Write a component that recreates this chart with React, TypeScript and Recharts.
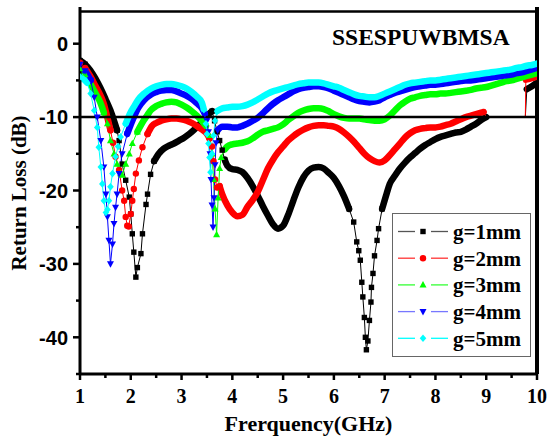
import React from "react";
import { LineChart, Line, XAxis, YAxis, ReferenceLine, Legend } from "recharts";

// [frequency GHz, return loss dB]
const g1Points: [number, number][] = [
  [1.0, -2.3], [1.1, -2.8], [1.2, -3.6], [1.3, -4.7], [1.4, -6.0], [1.5, -7.5], [1.6, -9.1], [1.67, -10.5],
  [1.73, -11.8], [1.77, -13.2], [1.83, -16.4], [1.9, -18.6], [1.97, -20.9], [2.0, -23.2], [2.03, -25.9],
  [2.06, -28.4], [2.1, -31.8], [2.13, -30.5], [2.2, -28.6], [2.23, -25.9], [2.3, -21.9], [2.33, -20.5],
  [2.39, -17.8], [2.46, -16.0], [2.55, -15.0], [2.65, -14.3], [2.75, -13.9], [2.85, -13.6], [2.95, -13.2],
  [3.05, -12.8], [3.15, -12.3], [3.25, -11.7], [3.35, -11.0], [3.45, -10.3], [3.55, -9.5], [3.6, -9.2],
  [3.65, -10.5], [3.7, -12.0], [3.75, -13.2], [3.8, -14.5], [3.85, -15.8], [3.9, -16.6], [4.0, -17.1],
  [4.1, -17.2], [4.2, -17.5], [4.3, -18.3], [4.4, -19.4], [4.5, -20.7], [4.6, -22.1], [4.7, -23.4],
  [4.8, -24.6], [4.9, -25.2], [5.0, -24.8], [5.1, -23.3], [5.2, -21.4], [5.3, -19.6], [5.4, -18.2],
  [5.5, -17.3], [5.6, -16.9], [5.7, -16.8], [5.8, -17.0], [5.9, -17.6], [6.0, -18.3], [6.1, -19.4],
  [6.2, -20.8], [6.3, -22.5], [6.39, -24.3], [6.45, -27.0], [6.49, -28.2], [6.52, -29.5], [6.55, -32.5],
  [6.57, -34.5], [6.6, -37.3], [6.62, -40.0], [6.64, -41.7], [6.67, -40.5], [6.7, -37.7], [6.73, -35.2],
  [6.74, -33.2], [6.77, -31.3], [6.8, -28.9], [6.85, -26.8], [6.88, -25.2], [6.95, -22.5], [7.04, -20.4],
  [7.1, -19.1], [7.2, -18.0], [7.3, -17.0], [7.4, -16.2], [7.5, -15.5], [7.6, -14.9], [7.7, -14.3],
  [7.8, -13.8], [7.9, -13.4], [8.0, -13.0], [8.1, -12.7], [8.2, -12.5], [8.3, -12.3], [8.4, -12.1],
  [8.5, -12.0], [8.6, -11.7], [8.7, -11.3], [8.8, -10.9], [8.9, -10.4], [9.0, -10.0], [9.77, -10.0],
  [9.8, -6.2], [9.9, -5.8], [10.0, -5.3],
];

const g2Points: [number, number][] = [
  [1.0, -2.6], [1.1, -3.3], [1.2, -4.4], [1.3, -5.7], [1.4, -7.0], [1.47, -8.2], [1.53, -9.8], [1.6, -11.8],
  [1.65, -13.5], [1.7, -15.4], [1.77, -17.2], [1.83, -20.0], [1.87, -21.4], [1.9, -23.6], [1.93, -24.8],
  [1.96, -24.9], [2.0, -23.2], [2.03, -21.4], [2.06, -19.8], [2.1, -17.7], [2.16, -15.9], [2.23, -14.1],
  [2.33, -12.3], [2.42, -11.2], [2.5, -10.8], [2.6, -10.5], [2.7, -10.3], [2.8, -10.2], [2.9, -10.2],
  [3.0, -10.3], [3.1, -10.5], [3.2, -10.8], [3.3, -11.2], [3.4, -11.7], [3.5, -12.3], [3.55, -12.9],
  [3.6, -14.0], [3.63, -16.0], [3.66, -18.5], [3.7, -19.6], [3.75, -19.4], [3.8, -20.5], [3.9, -22.0],
  [4.0, -23.0], [4.1, -23.5], [4.2, -23.3], [4.3, -22.2], [4.4, -21.3], [4.5, -20.2], [4.6, -18.6],
  [4.7, -17.0], [4.8, -15.8], [4.9, -14.8], [5.0, -14.0], [5.1, -13.2], [5.2, -12.6], [5.3, -12.1],
  [5.4, -11.7], [5.5, -11.4], [5.6, -11.2], [5.7, -11.1], [5.8, -11.1], [5.9, -11.2], [6.0, -11.3],
  [6.1, -11.6], [6.2, -12.1], [6.3, -12.7], [6.4, -13.4], [6.5, -14.2], [6.6, -15.0], [6.7, -15.6],
  [6.8, -16.0], [6.9, -16.2], [7.0, -15.9], [7.1, -15.2], [7.2, -14.4], [7.3, -13.6], [7.4, -12.8],
  [7.5, -12.2], [7.6, -11.8], [7.7, -11.6], [7.8, -11.5], [7.9, -11.4], [8.0, -11.4], [8.1, -11.3],
  [8.2, -11.1], [8.3, -10.9], [8.4, -10.6], [8.5, -10.3], [8.6, -10.0], [8.7, -9.8], [8.8, -9.6],
  [8.9, -9.4], [8.95, -9.3], [9.0, -10.0], [9.77, -10.0], [9.78, -4.9], [9.9, -4.7], [10.0, -4.5],
];

const g3Points: [number, number][] = [
  [1.0, -3.4], [1.1, -4.2], [1.2, -5.4], [1.3, -6.7], [1.4, -8.0], [1.47, -9.4], [1.54, -10.9], [1.6, -13.2],
  [1.67, -15.0], [1.73, -16.4], [1.8, -17.7], [1.83, -17.9], [1.9, -16.4], [1.97, -15.0], [2.03, -13.6],
  [2.13, -12.0], [2.2, -11.1], [2.26, -10.4], [2.33, -9.7], [2.39, -9.1], [2.5, -8.5], [2.6, -8.2],
  [2.7, -8.0], [2.8, -7.9], [2.9, -8.0], [3.0, -8.3], [3.1, -8.7], [3.2, -9.2], [3.3, -9.8], [3.4, -10.5],
  [3.48, -11.2], [3.55, -12.5], [3.6, -15.0], [3.63, -18.5], [3.66, -22.5], [3.69, -26.0], [3.72, -21.0],
  [3.75, -17.0], [3.78, -15.5], [3.85, -14.4], [3.9, -14.0], [4.0, -13.7], [4.1, -13.6], [4.2, -13.5],
  [4.3, -13.3], [4.4, -12.9], [4.5, -12.4], [4.6, -12.0], [4.7, -11.8], [4.8, -11.6], [4.9, -11.4],
  [5.0, -11.0], [5.1, -10.4], [5.2, -9.9], [5.3, -9.4], [5.4, -9.1], [5.5, -8.9], [5.6, -8.8], [5.7, -8.8],
  [5.8, -8.9], [5.9, -9.2], [6.0, -9.6], [6.1, -9.9], [6.2, -10.1], [6.3, -10.2], [6.4, -10.2],
  [6.5, -10.2], [6.6, -10.3], [6.7, -10.4], [6.8, -10.5], [6.9, -10.5], [7.0, -10.3], [7.1, -9.8],
  [7.2, -9.1], [7.3, -8.4], [7.4, -7.9], [7.5, -7.5], [7.6, -7.3], [7.7, -7.1], [7.8, -7.0], [7.9, -6.9],
  [8.0, -6.9], [8.1, -6.8], [8.2, -6.8], [8.3, -6.7], [8.4, -6.6], [8.5, -6.5], [8.6, -6.4], [8.7, -6.3],
  [8.8, -6.1], [8.9, -6.0], [9.0, -5.9], [9.1, -5.7], [9.2, -5.5], [9.3, -5.3], [9.4, -5.1], [9.5, -5.0],
  [9.6, -4.8], [9.7, -4.6], [9.8, -4.4], [9.9, -4.2], [10.0, -4.0],
];

const g4Points: [number, number][] = [
  [1.0, -2.8], [1.1, -3.7], [1.21, -5.0], [1.28, -7.3], [1.34, -10.0], [1.41, -13.2], [1.47, -16.8],
  [1.51, -20.5], [1.54, -23.6], [1.57, -26.8], [1.6, -30.0], [1.64, -27.3], [1.67, -24.5], [1.7, -22.3],
  [1.73, -20.5], [1.77, -17.7], [1.83, -15.0], [1.93, -12.3], [2.0, -11.0], [2.06, -10.0], [2.15, -8.7],
  [2.26, -7.7], [2.4, -6.9], [2.5, -6.6], [2.6, -6.4], [2.7, -6.3], [2.8, -6.3], [2.9, -6.5], [3.0, -6.8],
  [3.1, -7.1], [3.2, -7.5], [3.3, -8.1], [3.4, -8.8], [3.46, -9.6], [3.5, -10.5], [3.53, -12.0],
  [3.56, -15.0], [3.58, -18.5], [3.6, -22.0], [3.62, -25.0], [3.64, -21.0], [3.66, -16.5], [3.68, -13.5],
  [3.71, -11.8], [3.8, -11.3], [3.9, -11.3], [4.0, -11.4], [4.1, -11.4], [4.2, -11.2], [4.3, -10.9],
  [4.4, -10.5], [4.5, -10.1], [4.6, -9.5], [4.7, -8.8], [4.8, -8.2], [4.9, -7.7], [5.0, -7.3], [5.1, -6.9],
  [5.2, -6.5], [5.3, -6.2], [5.4, -6.0], [5.5, -5.9], [5.6, -5.8], [5.7, -5.8], [5.8, -5.9], [5.9, -6.1],
  [6.0, -6.4], [6.1, -6.7], [6.2, -7.0], [6.3, -7.3], [6.4, -7.6], [6.5, -7.8], [6.6, -7.9], [6.7, -8.0],
  [6.8, -7.9], [6.9, -7.7], [7.0, -7.3], [7.1, -7.0], [7.2, -6.7], [7.3, -6.5], [7.4, -6.3], [7.5, -6.1],
  [7.6, -5.9], [7.7, -5.8], [7.8, -5.7], [7.9, -5.6], [8.0, -5.6], [8.1, -5.5], [8.2, -5.4], [8.3, -5.3],
  [8.4, -5.2], [8.5, -5.1], [8.6, -5.0], [8.7, -5.0], [8.8, -4.9], [8.9, -4.8], [9.0, -4.7], [9.1, -4.6],
  [9.2, -4.5], [9.3, -4.4], [9.4, -4.3], [9.5, -4.2], [9.6, -4.0], [9.7, -3.9], [9.8, -3.7], [9.9, -3.5],
  [10.0, -3.3],
];

const g5Points: [number, number][] = [
  [1.0, -4.5], [1.07, -4.8], [1.14, -5.3], [1.21, -6.8], [1.28, -9.1], [1.34, -11.4], [1.37, -14.1],
  [1.41, -16.8], [1.44, -19.1], [1.47, -21.4], [1.51, -23.0], [1.54, -22.6], [1.57, -21.4], [1.6, -19.5],
  [1.64, -17.7], [1.7, -15.4], [1.75, -14.0], [1.8, -12.7], [1.9, -10.9], [2.0, -9.3], [2.06, -8.6],
  [2.15, -7.6], [2.26, -6.8], [2.4, -6.1], [2.5, -5.8], [2.6, -5.6], [2.7, -5.5], [2.8, -5.5], [2.9, -5.6],
  [3.0, -5.8], [3.1, -6.1], [3.2, -6.6], [3.3, -7.2], [3.4, -8.0], [3.44, -9.0], [3.48, -10.9],
  [3.5, -12.3], [3.53, -13.6], [3.55, -15.5], [3.57, -17.5], [3.6, -15.0], [3.63, -12.5], [3.66, -10.5],
  [3.7, -9.2], [3.8, -8.8], [3.9, -8.7], [4.0, -8.6], [4.1, -8.6], [4.2, -8.5], [4.3, -8.3], [4.4, -8.0],
  [4.5, -7.6], [4.6, -7.2], [4.7, -6.8], [4.8, -6.5], [4.9, -6.3], [5.0, -6.1], [5.1, -5.9], [5.2, -5.7],
  [5.3, -5.5], [5.4, -5.4], [5.5, -5.3], [5.6, -5.3], [5.7, -5.3], [5.8, -5.4], [5.9, -5.6], [6.0, -5.8],
  [6.1, -6.0], [6.2, -6.3], [6.3, -6.6], [6.4, -6.9], [6.5, -7.1], [6.6, -7.2], [6.7, -7.3], [6.8, -7.3],
  [6.9, -7.1], [7.0, -6.8], [7.1, -6.5], [7.2, -6.2], [7.3, -5.9], [7.4, -5.6], [7.5, -5.4], [7.6, -5.3],
  [7.7, -5.2], [7.8, -5.1], [7.9, -5.0], [8.0, -5.0], [8.1, -4.9], [8.2, -4.8], [8.3, -4.7], [8.4, -4.6],
  [8.5, -4.5], [8.6, -4.4], [8.7, -4.3], [8.8, -4.2], [8.9, -4.1], [9.0, -4.0], [9.1, -3.9], [9.2, -3.8],
  [9.3, -3.7], [9.4, -3.6], [9.5, -3.5], [9.6, -3.3], [9.7, -3.2], [9.8, -3.0], [9.9, -2.9], [10.0, -2.7],
];

// frequency spans where the sampled points spread apart (markers show) / thin jump segments
const g1Dips: [number, number][] = [[1.0, 1.1], [1.73, 2.46], [3.6, 3.85], [6.3, 6.95]];
const g2Dips: [number, number][] = [[1.0, 1.1], [1.6, 2.33], [3.55, 3.75]];
const g3Dips: [number, number][] = [[1.0, 1.1], [1.47, 2.13], [3.5, 3.8]];
const g4Dips: [number, number][] = [[1.0, 1.1], [1.21, 1.93], [3.46, 3.71]];
const g5Dips: [number, number][] = [[1.0, 1.07], [1.14, 1.9], [3.44, 3.7]];
const g1Jumps: [number, number][] = [[9.0, 9.8]];
const g2Jumps: [number, number][] = [[8.95, 9.78]];

const xTicks = [1, 1.5, 2, 2.5, 3, 3.5, 4, 4.5, 5, 5.5, 6, 6.5, 7, 7.5, 8, 8.5, 9, 9.5, 10];
const yTicks = [5, 0, -5, -10, -15, -20, -25, -30, -35, -40, -45];

const SERIF = "'Liberation Serif', 'Times New Roman', serif";
const SANS = "'Liberation Sans', Arial, sans-serif";

const series = [
  { name: "g=1mm", points: g1Points, dips: g1Dips, jumps: g1Jumps, color: "#000000", legendLine: "#555555", shape: "square" },
  { name: "g=2mm", points: g2Points, dips: g2Dips, jumps: g2Jumps, color: "#ff0000", legendLine: "#ff3333", shape: "circle" },
  { name: "g=3mm", points: g3Points, dips: g3Dips, jumps: [], color: "#00ff00", legendLine: "#33ff33", shape: "up" },
  { name: "g=4mm", points: g4Points, dips: g4Dips, jumps: [], color: "#0000ff", legendLine: "#7777ff", shape: "down" },
  { name: "g=5mm", points: g5Points, dips: g5Dips, jumps: [], color: "#00ffff", legendLine: "#00ffff", shape: "diamond" },
];

const inside = (f: number, spans: [number, number][]) => spans.some(([a, b]) => f > a && f < b);
const within = (f: number, spans: [number, number][]) => spans.some(([a, b]) => f >= a && f <= b);

function Marker({ shape, cx, cy, color }: { shape: string; cx: number; cy: number; color: string }) {
  if (cx == null || cy == null) return null;
  switch (shape) {
    case "square":
      return <rect x={cx - 2.7} y={cy - 2.7} width={5.4} height={5.4} fill={color} />;
    case "circle":
      return <circle cx={cx} cy={cy} r={3.2} fill={color} />;
    case "up":
      return <path d={`M${cx},${cy - 3.8}L${cx + 3.5},${cy + 2.6}L${cx - 3.5},${cy + 2.6}Z`} fill={color} />;
    case "down":
      return <path d={`M${cx},${cy + 3.8}L${cx + 3.5},${cy - 2.6}L${cx - 3.5},${cy - 2.6}Z`} fill={color} />;
    default:
      return <path d={`M${cx},${cy - 3.8}L${cx + 3.3},${cy}L${cx},${cy + 3.8}L${cx - 3.3},${cy}Z`} fill={color} />;
  }
}

const XTick = (props: any) => {
  const { x, y, payload } = props;
  const v = payload.value;
  const major = Number.isInteger(v);
  return (
    <g>
      <line x1={x} x2={x} y1={y} y2={y + (major ? 6 : 4)} stroke="#000" strokeWidth={2.5} />
      {major && (
        <text x={x} y={y + 29} textAnchor="middle" fontFamily={SERIF} fontWeight={700} fontSize={20} fill="#000">
          {v}
        </text>
      )}
    </g>
  );
};

const YTick = (props: any) => {
  const { x, y, payload } = props;
  const v = payload.value;
  const major = v % 10 === 0;
  return (
    <g>
      <line x1={x} x2={x - (major ? 7 : 4)} y1={y} y2={y} stroke="#000" strokeWidth={2.5} />
      {major && (
        <text x={x - 12} y={y} dy="0.36em" textAnchor="end" fontFamily={SANS} fontWeight={700} fontSize={20} fill="#000">
          {v}
        </text>
      )}
    </g>
  );
};

const LegendBox = () => (
  <div style={{ width: 139, height: 144, border: "1.5px solid #666", background: "#fff", boxSizing: "border-box" }}>
    <svg width={136} height={141} style={{ display: "block" }}>
      {series.map((s, i) => {
        const cy = 17.5 + i * 26.7;
        return (
          <g key={s.name}>
            <line x1={5} x2={22} y1={cy} y2={cy} stroke={s.legendLine} strokeWidth={1.3} />
            <line x1={38} x2={55} y1={cy} y2={cy} stroke={s.legendLine} strokeWidth={1.3} />
            <Marker shape={s.shape} cx={30} cy={cy} color={s.color} />
            <text x={60} y={cy} dy="0.35em" fontFamily={SERIF} fontWeight={700} fontSize={21} fill="#000">
              {s.name}
            </text>
          </g>
        );
      })}
    </svg>
  </div>
);

export default function App() {
  const layers = series.map((s) => ({
    ...s,
    rows: s.points.map(([f, v]) => ({
      f,
      v,
      band: inside(f, s.dips) || inside(f, s.jumps) ? null : v,
      mark: within(f, s.dips),
    })),
  }));

  return (
    <div style={{ position: "absolute", left: 0, top: 0, width: 547, height: 438, background: "#fff" }}>
      <LineChart width={547} height={438} margin={{ top: 7, right: 10, bottom: 0, left: 0 }}>
        <XAxis
          dataKey="f"
          type="number"
          domain={[1, 10]}
          ticks={xTicks}
          allowDataOverflow
          height={64}
          tickSize={0}
          tickMargin={0}
          tick={<XTick />}
          axisLine={{ stroke: "#000", strokeWidth: 3 }}
          tickLine={false}
          label={{
            content: ({ viewBox }: any) => (
              <text
                x={viewBox.x + viewBox.width / 2}
                y={viewBox.y + 57}
                textAnchor="middle"
                fontFamily={SERIF}
                fontWeight={700}
                fontSize={22}
                fill="#000"
              >
                Frerquency(GHz)
              </text>
            ),
          }}
        />
        <YAxis
          type="number"
          domain={[-45, 5]}
          ticks={yTicks}
          allowDataOverflow
          width={80}
          tickSize={0}
          tickMargin={0}
          tick={<YTick />}
          axisLine={{ stroke: "#000", strokeWidth: 3 }}
          tickLine={false}
          label={{
            content: () => (
              <text
                x={26}
                y={193}
                transform="rotate(-90, 26, 193)"
                textAnchor="middle"
                fontFamily={SERIF}
                fontWeight={700}
                fontSize={21}
                fill="#000"
              >
                Return Loss (dB)
              </text>
            ),
          }}
        />
        <ReferenceLine y={4.4} stroke="#000" strokeWidth={2.5} />
        <ReferenceLine x={10} stroke="#000" strokeWidth={4} />
        {layers.map((s) => [
          <Line
            key={`${s.name}-thin`}
            data={s.rows}
            dataKey="v"
            name={s.name}
            type="linear"
            stroke={s.color}
            strokeWidth={1}
            isAnimationActive={false}
            activeDot={false}
            legendType="none"
            dot={(p: any) =>
              s.rows[p.index] && s.rows[p.index].mark ? (
                <Marker key={`${s.name}-${p.index}`} shape={s.shape} cx={p.cx} cy={p.cy} color={s.color} />
              ) : (
                <g key={`${s.name}-${p.index}`} />
              )
            }
          />,
          <Line
            key={`${s.name}-band`}
            data={s.rows}
            dataKey="band"
            type="monotone"
            stroke={s.color}
            strokeWidth={6.5}
            strokeLinejoin="round"
            strokeLinecap="round"
            connectNulls={false}
            isAnimationActive={false}
            activeDot={false}
            dot={false}
            legendType="none"
          />,
        ])}
        <ReferenceLine y={-10} stroke="#000" strokeWidth={2.5} />
        <Legend
          layout="vertical"
          align="center"
          verticalAlign="middle"
          content={() => <LegendBox />}
          wrapperStyle={{ left: 392, top: 213, width: 140, height: 144 }}
        />
        <text x={332} y={45} fontFamily={SERIF} fontWeight={700} fontSize={23.5} fill="#000">
          SSESPUWBMSA
        </text>
      </LineChart>
    </div>
  );
}
